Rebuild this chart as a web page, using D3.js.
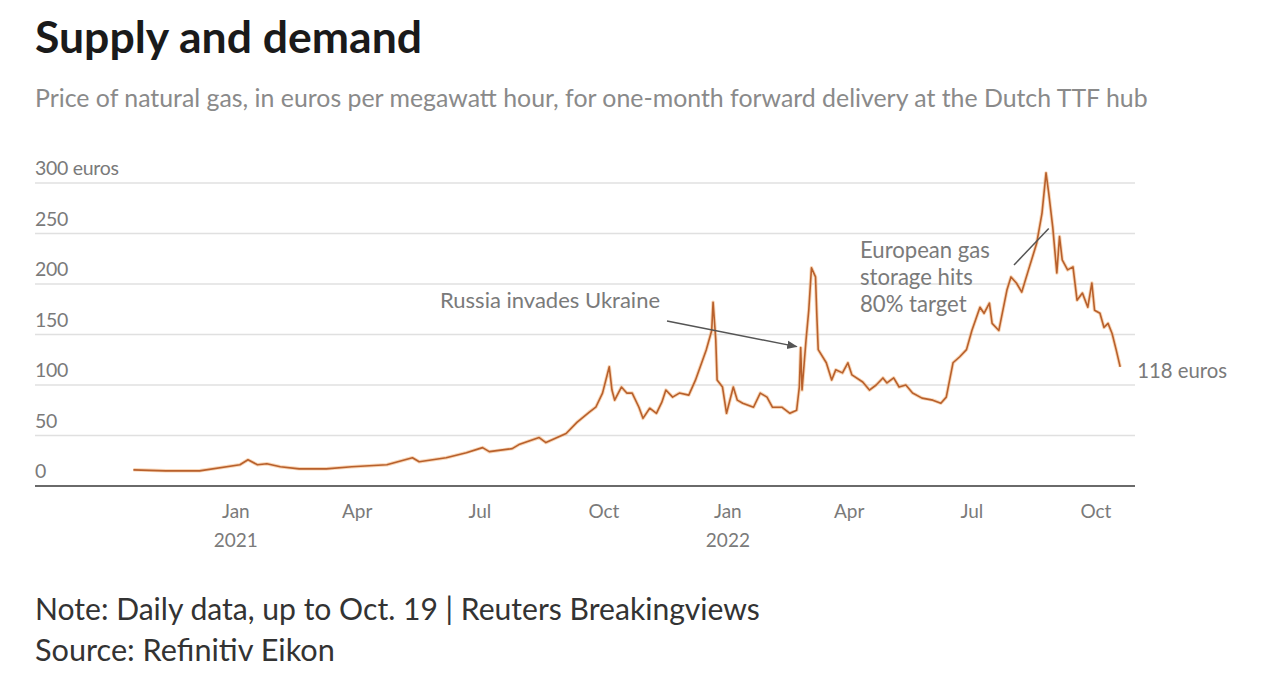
<!DOCTYPE html>
<html>
<head>
<meta charset="utf-8">
<script src="https://cdn.jsdelivr.net/npm/d3@7"></script>
<style>
  html, body { margin: 0; padding: 0; background: #fff; }
  svg { display: block; }
  text { font-family: "Lato", "Open Sans", sans-serif; }
</style>
</head>
<body>
<svg id="chart" width="1280" height="682"></svg>
<script>
const titleText = "Supply and demand";
const subtitleText = "Price of natural gas, in euros per megawatt hour, for one-month forward delivery at the Dutch TTF hub";
const noteText = "Note: Daily data, up to Oct. 19 | Reuters Breakingviews";
const sourceText = "Source: Refinitiv Eikon";

const dates = [
  "2020-10-17","2020-11-10","2020-12-05","2021-01-04","2021-01-10","2021-01-17","2021-01-24","2021-02-03",
  "2021-02-17","2021-03-09","2021-03-28","2021-04-23","2021-05-12","2021-05-17","2021-06-06","2021-06-21",
  "2021-07-03","2021-07-08","2021-07-25","2021-07-30","2021-08-14","2021-08-19","2021-08-29","2021-09-03",
  "2021-09-11","2021-09-20","2021-09-25","2021-09-30","2021-10-05","2021-10-07","2021-10-09","2021-10-14",
  "2021-10-18","2021-10-22","2021-10-27","2021-10-30","2021-11-04","2021-11-09","2021-11-13","2021-11-16",
  "2021-11-21","2021-11-26","2021-12-03","2021-12-08","2021-12-16","2021-12-20","2021-12-21","2021-12-23",
  "2021-12-24","2021-12-28","2021-12-31","2022-01-05","2022-01-08","2022-01-12","2022-01-20","2022-01-25",
  "2022-01-30","2022-02-03","2022-02-10","2022-02-16","2022-02-21","2022-02-23","2022-02-24","2022-02-25",
  "2022-02-28","2022-03-02","2022-03-04","2022-03-07","2022-03-08","2022-03-09","2022-03-15","2022-03-19",
  "2022-03-22","2022-03-27","2022-03-31","2022-04-03","2022-04-11","2022-04-16","2022-04-21","2022-04-26",
  "2022-04-29","2022-05-04","2022-05-08","2022-05-13","2022-05-18","2022-05-25","2022-06-02","2022-06-08",
  "2022-06-12","2022-06-17","2022-06-22","2022-06-27","2022-07-01","2022-07-07","2022-07-10","2022-07-14",
  "2022-07-16","2022-07-21","2022-07-27","2022-07-30","2022-08-03","2022-08-07","2022-08-12","2022-08-18",
  "2022-08-22","2022-08-25","2022-08-27","2022-08-30","2022-09-02","2022-09-04","2022-09-06","2022-09-10",
  "2022-09-14","2022-09-17","2022-09-21","2022-09-25","2022-09-28","2022-09-30","2022-10-04","2022-10-07",
  "2022-10-10","2022-10-13","2022-10-16","2022-10-19"
];
const prices = [
  16,15,15,21,26,21,22,19,
  17,17,19,21,28,24,28,33,
  38,34,37,41,48,43,49,52,
  63,73,78,92,118,95,85,98,
  92,92,78,67,77,72,83,95,
  88,92,90,105,135,154,182,145,
  105,98,72,98,85,82,78,92,
  88,78,78,72,75,98,137,95,
  145,174,216,207,168,135,122,105,
  115,112,122,110,103,95,100,107,
  102,107,98,100,92,87,85,82,
  88,122,128,135,154,177,171,181,
  161,154,194,207,201,192,214,240,
  270,310,290,256,211,247,224,214,
  217,184,191,177,201,174,171,157,
  161,151,135,118
];

const yTicks = [0, 50, 100, 150, 200, 250, 300];
const yUnit = " euros";
const xDomain = ["2020-08-05", "2022-10-30"];
const xTickStart = "2021-01-01";
const lastLabel = "118 euros";

const annotations = [
  { lines: ["Russia invades Ukraine"], width: 220, date: "2022-02-21", value: 138, tx: 440, ty: 308, ax: 667, ay: 321, head: true },
  { lines: ["European gas", "storage hits", "80% target"], width: 130, date: "2022-08-27", value: 255, tx: 860, ty: 258, ax: 1014, ay: 265, head: false }
];

const parse = d3.timeParse("%Y-%m-%d");
const data = dates.map((d, i) => ({ date: parse(d), value: prices[i] }));

const svg = d3.select("#chart");
const mLeft = 35, mRight = 1135, mTop = 183, mBottom = 486;

const x = d3.scaleTime().domain(xDomain.map(parse)).range([mLeft, mRight]);
const y = d3.scaleLinear().domain([0, 300]).range([mBottom, mTop]);

function fitText(sel, targetWidth, node) {
  node = node || sel.node();
  const fs = parseFloat(sel.attr("font-size"));
  const w = node.getComputedTextLength();
  if (w > 0) sel.attr("font-size", (fs * targetWidth / w).toFixed(2));
}

// Title & subtitle
const title = svg.append("text").attr("x", 35).attr("y", 53)
  .attr("font-size", 38).attr("font-weight", 700).attr("fill", "#1a1a1a").text(titleText);
fitText(title, 387);
const sub = svg.append("text").attr("x", 35).attr("y", 107)
  .attr("font-size", 20).attr("fill", "#8a8a8a").text(subtitleText);
fitText(sub, 1113);

// Gridlines
svg.append("g").selectAll("line").data(yTicks.filter(d => d > 0)).join("line")
  .attr("x1", mLeft).attr("x2", mRight)
  .attr("y1", d => y(d)).attr("y2", d => y(d))
  .attr("stroke", "#e0e0e0").attr("stroke-width", 1.5);

// Y labels
svg.append("g").selectAll("text").data(yTicks).join("text")
  .attr("x", mLeft).attr("y", d => y(d) - 8)
  .attr("font-size", 19.5).attr("fill", "#7a7a7a")
  .attr("letter-spacing", -0.3)
  .text(d => d === 300 ? d + yUnit : d);

// X axis baseline
svg.append("line").attr("x1", mLeft).attr("x2", mRight)
  .attr("y1", y(0)).attr("y2", y(0))
  .attr("stroke", "#6a6a6a").attr("stroke-width", 2);

// X tick labels
const ticks = d3.timeMonth.every(3).range(parse(xTickStart), x.domain()[1]);
const fmtM = d3.timeFormat("%b");
const xl = svg.append("g");
ticks.forEach(t => {
  xl.append("text").attr("x", x(t)).attr("y", 518).attr("text-anchor", "middle")
    .attr("font-size", 19).attr("fill", "#7a7a7a").text(fmtM(t));
  if (t.getMonth() === 0) {
    xl.append("text").attr("x", x(t)).attr("y", 547).attr("text-anchor", "middle")
      .attr("font-size", 19).attr("fill", "#7a7a7a").text(t.getFullYear());
  }
});

// Line glow + line
const line = d3.line().x(d => x(d.date)).y(d => y(d.value)).curve(d3.curveLinear);
svg.append("path").datum(data).attr("d", line)
  .attr("fill", "none").attr("stroke", "#f3b27a").attr("stroke-width", 3.5)
  .attr("stroke-opacity", 0.55).attr("stroke-linejoin", "round");
svg.append("path").datum(data).attr("d", line)
  .attr("fill", "none").attr("stroke", "#b8602c").attr("stroke-width", 1.6)
  .attr("stroke-linejoin", "round");

// Arrow marker
svg.append("defs").append("marker").attr("id", "arr")
  .attr("viewBox", "0 0 10 10").attr("refX", 9).attr("refY", 5)
  .attr("markerWidth", 7).attr("markerHeight", 7).attr("orient", "auto")
  .append("path").attr("d", "M0,1 L10,5 L0,9 Z").attr("fill", "#555");

// Annotations
annotations.forEach(a => {
  const t = svg.append("text").attr("font-size", 17.5).attr("fill", "#7a7a7a");
  const spans = a.lines.map((l, i) =>
    t.append("tspan").attr("x", a.tx).attr("y", a.ty + i * 27).text(l));
  fitText(t, a.width, spans[0].node());
  const ln = svg.append("line").attr("x1", a.ax).attr("y1", a.ay)
    .attr("x2", x(parse(a.date))).attr("y2", y(a.value))
    .attr("stroke", "#555").attr("stroke-width", 1.5);
  if (a.head) ln.attr("marker-end", "url(#arr)");
});

// End label
const last = data[data.length - 1];
const endLbl = svg.append("text").attr("x", x(last.date) + 17).attr("y", y(last.value) + 11)
  .attr("font-size", 17.5).attr("fill", "#7a7a7a").text(lastLabel);
fitText(endLbl, 90);

// Notes
const n1 = svg.append("text").attr("x", 35).attr("y", 620)
  .attr("font-size", 23).attr("fill", "#333").text(noteText);
fitText(n1, 725);
const n2 = svg.append("text").attr("x", 35).attr("y", 661)
  .attr("font-size", 23).attr("fill", "#333").text(sourceText);
fitText(n2, 300);
</script>
</body>
</html>
